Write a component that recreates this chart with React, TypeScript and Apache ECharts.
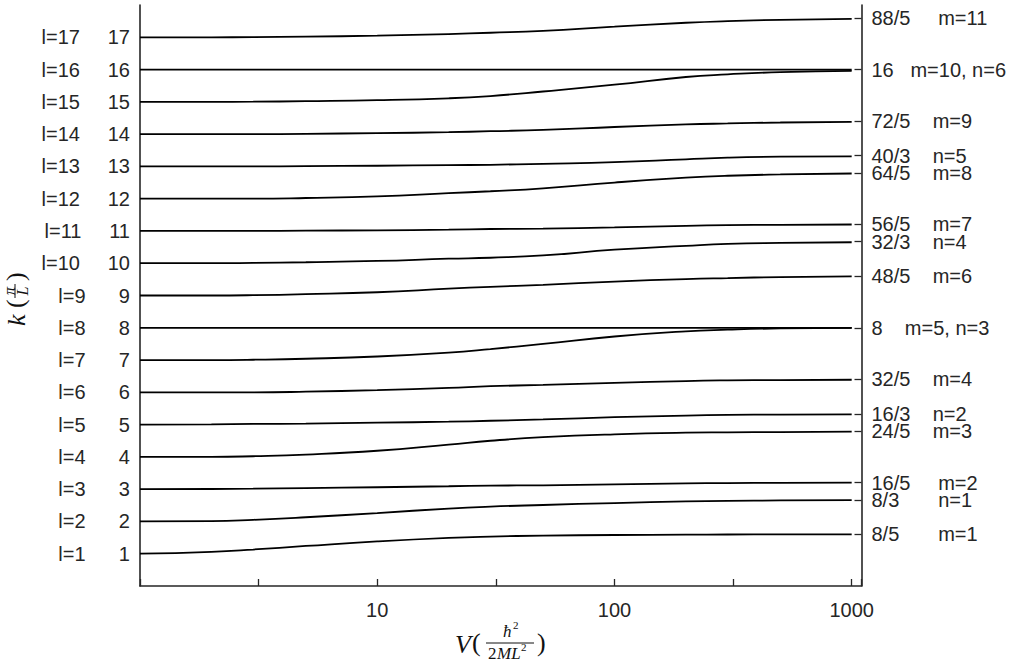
import React, { useEffect, useRef } from "react";
import * as echarts from "echarts";

// ---------- data ----------
const V_VALUES = [1, 2, 3, 5, 10, 20, 30, 50, 100, 200, 300, 500, 1000];

const L1 = [1.0, 1.06, 1.13, 1.24, 1.38, 1.49, 1.53, 1.56, 1.58, 1.59, 1.595, 1.6, 1.6];
const L2 = [2.0, 2.01, 2.05, 2.13, 2.26, 2.4, 2.46, 2.51, 2.57, 2.62, 2.64, 2.65, 2.66];
const L3 = [3.0, 3.005, 3.015, 3.035, 3.06, 3.09, 3.11, 3.12, 3.15, 3.18, 3.19, 3.195, 3.2];
const L4 = [4.0, 4.0, 4.02, 4.07, 4.19, 4.38, 4.5, 4.61, 4.7, 4.75, 4.76, 4.77, 4.78];
const L5 = [5.0, 5.01, 5.02, 5.03, 5.06, 5.09, 5.12, 5.16, 5.23, 5.28, 5.3, 5.31, 5.32];
const L6 = [6.0, 6.0, 6.0, 6.02, 6.07, 6.14, 6.19, 6.23, 6.29, 6.35, 6.37, 6.38, 6.39];
const L7 = [7.0, 7.0, 7.01, 7.04, 7.11, 7.23, 7.34, 7.5, 7.73, 7.89, 7.94, 7.98, 8.0];
const L8 = [8, 8, 8, 8, 8, 8, 8, 8, 8, 8, 8, 8, 8];
const L9 = [9.0, 9.0, 9.01, 9.04, 9.1, 9.21, 9.27, 9.33, 9.43, 9.51, 9.54, 9.57, 9.59];
const L10 = [10.0, 10.0, 10.01, 10.03, 10.07, 10.14, 10.17, 10.24, 10.42, 10.54, 10.6, 10.63, 10.65];
const L11 = [11.0, 11.0, 11.0, 11.01, 11.02, 11.04, 11.06, 11.07, 11.11, 11.16, 11.18, 11.19, 11.2];
const L12 = [12.0, 12.0, 12.0, 12.02, 12.07, 12.17, 12.23, 12.32, 12.5, 12.65, 12.71, 12.75, 12.78];
const L13 = [13.0, 13.0, 13.0, 13.01, 13.02, 13.04, 13.05, 13.08, 13.13, 13.22, 13.27, 13.3, 13.31];
const L14 = [14.0, 14.0, 14.0, 14.01, 14.03, 14.06, 14.09, 14.13, 14.22, 14.3, 14.33, 14.36, 14.38];
const L15 = [15.0, 15.0, 15.005, 15.02, 15.05, 15.11, 15.18, 15.32, 15.53, 15.77, 15.85, 15.92, 15.96];
const L16 = [16, 16, 16, 16, 16, 16, 16, 16, 16, 16, 16, 16, 16];
const L17 = [17.0, 17.0, 17.005, 17.02, 17.05, 17.1, 17.14, 17.2, 17.33, 17.45, 17.5, 17.54, 17.57];

const CURVES = [L1, L2, L3, L4, L5, L6, L7, L8, L9, L10, L11, L12, L13, L14, L15, L16, L17];

const X_MIN = 1;
const X_MAX = 1100;
const X_LABELS = [10, 100, 1000];

const Y_MIN = 0;
const Y_MAX = 18;
const LEFT_TICKS = [1, 2, 3, 4, 5, 6, 7, 8, 9, 10, 11, 12, 13, 14, 15, 16, 17];

const LIMIT_VALUES = [8 / 5, 8 / 3, 16 / 5, 24 / 5, 16 / 3, 32 / 5, 8, 48 / 5, 32 / 3, 56 / 5, 64 / 5, 40 / 3, 72 / 5, 16, 88 / 5];
const LIMIT_FRACS = ["8/5", "8/3", "16/5", "24/5", "16/3", "32/5", "8", "48/5", "32/3", "56/5", "64/5", "40/3", "72/5", "16", "88/5"];
const LIMIT_NAMES = ["m=1", "n=1", "m=2", "m=3", "n=2", "m=4", "m=5, n=3", "m=6", "n=4", "m=7", "m=8", "n=5", "m=9", "m=10, n=6", "m=11"];
const LIMIT_GAPS = [7, 7, 5, 4, 4, 4, 4, 4, 4, 4, 4, 4, 4, 3, 5];

// ---------- styling ----------
const AXIS_COLOR = "#262626";
const SANS = "'Liberation Sans', Arial, Helvetica, sans-serif";
const SERIF = "'Liberation Serif', 'DejaVu Serif', 'Times New Roman', serif";
const NB = "\u00a0";

function buildOption() {
  const series = CURVES.map((curve, idx) => ({
    type: "line",
    name: "l=" + (idx + 1),
    data: V_VALUES.map((v, i) => [Math.log10(v), curve[i]]),
    showSymbol: false,
    symbol: "none",
    smooth: 0.5,
    silent: true,
    lineStyle: { color: "#000", width: 1.8 },
    yAxisIndex: 0,
    z: 3,
  }));

  const txt = (x: number, y: number, text: string, size: number, italic: boolean, align = "left") => ({
    type: "text",
    x,
    y,
    silent: true,
    style: {
      text,
      fill: "#111",
      font: (italic ? "italic " : "") + size + "px " + SERIF,
      align,
      verticalAlign: "middle",
    },
  });

  const graphic = [
    // x-axis title: V ( hbar^2 / 2 M L^2 )
    txt(455, 644, "V", 26, true),
    txt(472, 642, "(", 26, false),
    txt(503, 631, "ħ", 17, true),
    txt(513, 625, "2", 11, false),
    {
      type: "line",
      silent: true,
      shape: { x1: 486, y1: 643, x2: 534, y2: 643 },
      style: { stroke: "#111", lineWidth: 1 },
    },
    txt(488, 653, "2", 17, false),
    txt(497, 653, "ML", 17, true),
    txt(521, 647, "2", 11, false),
    txt(537, 642, ")", 26, false),
    // y-axis title: k ( pi / L ), rotated
    {
      type: "group",
      x: 16,
      y: 326,
      rotation: Math.PI / 2,
      silent: true,
      children: [
        txt(0, 0, "k", 26, true),
        txt(18, -1, "(", 26, false),
        {
          type: "line",
          silent: true,
          shape: { x1: 28, y1: -1, x2: 42, y2: -1 },
          style: { stroke: "#111", lineWidth: 1 },
        },
        txt(35, -7, "π", 16, true, "center"),
        txt(35, 6, "L", 16, true, "center"),
        txt(45, -1, ")", 26, false),
      ],
    },
  ];

  return {
    animation: false,
    backgroundColor: "#ffffff",
    grid: {
      left: 140,
      right: 162.5,
      top: 5,
      bottom: 80,
      containLabel: false,
      outerBoundsMode: "none",
    },
    xAxis: {
      type: "value",
      min: Math.log10(X_MIN),
      max: Math.log10(X_MAX),
      interval: 0.5,
      axisLine: { show: true, onZero: false, lineStyle: { color: AXIS_COLOR, width: 1.6 } },
      axisTick: { show: true, inside: true, length: 7, lineStyle: { color: AXIS_COLOR, width: 1.3 } },
      splitLine: { show: false },
      axisLabel: {
        color: AXIS_COLOR,
        fontFamily: SANS,
        fontSize: 20,
        margin: 14,
        formatter: (v: number) => {
          const r = Math.round(Math.pow(10, v));
          return Math.abs(v - Math.round(v)) < 1e-6 && X_LABELS.indexOf(r) >= 0 ? String(r) : "";
        },
      },
    },
    yAxis: [
      {
        type: "value",
        position: "left",
        min: Y_MIN,
        max: Y_MAX,
        interval: 1,
        axisLine: { show: true, lineStyle: { color: AXIS_COLOR, width: 1.6 } },
        axisTick: { show: false },
        splitLine: { show: false },
        axisLabel: {
          color: AXIS_COLOR,
          fontFamily: SANS,
          fontSize: 20,
          margin: 10,
          formatter: (v: number) => {
            const n = Math.round(v);
            if (LEFT_TICKS.indexOf(n) < 0 || Math.abs(v - n) > 1e-6) return "";
            return "l=" + n + NB.repeat(n >= 10 ? 5 : 6) + n;
          },
        },
      },
      {
        type: "value",
        position: "right",
        min: Y_MIN,
        max: Y_MAX,
        axisLine: { show: true, lineStyle: { color: AXIS_COLOR, width: 1.6 } },
        axisTick: {
          show: true,
          inside: true,
          length: 7,
          customValues: LIMIT_VALUES,
          lineStyle: { color: AXIS_COLOR, width: 1.3 },
        },
        splitLine: { show: false },
        axisLabel: {
          color: AXIS_COLOR,
          fontFamily: SANS,
          fontSize: 20,
          lineHeight: 15,
          margin: 10,
          hideOverlap: false,
          customValues: LIMIT_VALUES,
          formatter: (v: number) => {
            for (let i = 0; i < LIMIT_VALUES.length; i++) {
              if (Math.abs(LIMIT_VALUES[i] - v) < 1e-4) {
                return LIMIT_FRACS[i] + NB.repeat(LIMIT_GAPS[i]) + LIMIT_NAMES[i];
              }
            }
            return "";
          },
        },
      },
    ],
    series,
    graphic,
  };
}

export default function App() {
  const ref = useRef<HTMLDivElement | null>(null);
  useEffect(() => {
    if (!ref.current) return;
    const chart = echarts.init(ref.current, undefined, { renderer: "svg" });
    chart.setOption(buildOption() as any);
    return () => {
      chart.dispose();
    };
  }, []);
  return (
    <div
      ref={ref}
      style={{ position: "fixed", left: 0, top: 0, width: 1024, height: 666, background: "#fff" }}
    />
  );
}
